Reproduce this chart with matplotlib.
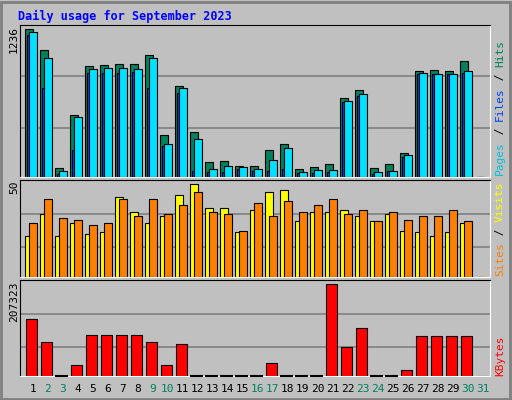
import numpy as np
import matplotlib.pyplot as plt
from matplotlib.patches import Rectangle

days = np.arange(1, 32)
hits = [1236, 1060, 78, 515, 925, 934, 942, 942, 1018, 355, 758, 380, 129, 137, 95,
        95, 229, 280, 70, 87, 112, 665, 724, 78, 112, 204, 884, 892, 884, 967, np.nan]
files = [1211, 993, 53, 498, 900, 909, 909, 900, 993, 280, 741, 322, 70, 95, 87,
         70, 145, 246, 45, 62, 62, 632, 691, 45, 53, 187, 867, 858, 858, 884, np.nan]
pages = [1191, 741, 28, 229, 867, 867, 867, 875, 741, 263, 699, 53, 45, 45, 70,
         53, 53, 70, 36, 36, 45, 624, 682, 28, 53, 171, 858, 858, 858, 867, np.nan]
visits = [22, 34, 22, 29, 23, 24, 43, 35, 29, 33, 44, 50, 37, 37, 24,
          36, 46, 47, 30, 35, 35, 36, 33, 30, 34, 25, 24, 22, 24, 29, np.nan]
sites = [29, 42, 32, 31, 28, 29, 42, 33, 42, 34, 39, 46, 35, 34, 25,
         40, 33, 41, 35, 39, 42, 34, 36, 30, 35, 31, 33, 33, 36, 30, np.nan]
kbytes = [129900, 77500, 0, 25000, 93400, 93400, 93400, 93400, 77500, 25000, 72900, 0, 0, 0, 0,
          0, 29600, 0, 0, 0, 207323, 66100, 109400, 0, 0, 13700, 91100, 91100, 91100, 91100, np.nan]
weekend = [2, 3, 9, 10, 16, 17, 23, 24, 30, 31]

BG = '#C0C0C0'
GRID = '#808080'
W, H = 512, 400
fig = plt.figure(figsize=(5.12, 4.0), dpi=100, facecolor=BG)
fig.patches.append(Rectangle((1, 1), W - 3, H - 3, transform=None, fill=False, ec='#808080', lw=2))

def px_axes(x0, y0, x1, y1):
    return fig.add_axes([x0 / W, 1 - y1 / H, (x1 - x0) / W, (y1 - y0) / H])

x = days - 1
XL = (-0.353, 30.98)
mono = 'DejaVu Sans Mono'

def style(ax, ylim, grids):
    ax.set_facecolor(BG)
    ax.set_xlim(*XL)
    ax.set_ylim(0, ylim)
    for g in grids:
        ax.axhline(g, color=GRID, lw=1.2, zorder=0)
    ax.set_xticks([]); ax.set_yticks([])
    for s in ('left', 'top'):
        ax.spines[s].set_color('black')
    for s in ('right', 'bottom'):
        ax.spines[s].set_color('white')

def clean(v):
    return np.nan_to_num(np.array(v, dtype=float))

# hits / files / pages
ax1 = px_axes(20, 25, 490, 177)
style(ax1, 1272, [842, 413])
ax1.bar(x, clean(hits), width=0.49, align='edge', color='#00805C', ec='black', lw=0.8, zorder=2)
ax1.bar(x + 0.13, clean(pages), width=0.4, align='edge', color='#0040FF', ec='black', lw=0.8, zorder=3)
ax1.bar(x + 0.27, clean(files), width=0.49, align='edge', color='#00E0FF', ec='black', lw=0.8, zorder=4)

# visits / sites
ax2 = px_axes(20, 180, 490, 277)
style(ax2, 52.3, [34.2, 16.3])
ax2.bar(x, clean(visits), width=0.49, align='edge', color='#FFFF00', ec='black', lw=0.8, zorder=2)
ax2.bar(x + 0.27, clean(sites), width=0.49, align='edge', color='#FF8000', ec='black', lw=0.8, zorder=3)

# kbytes
ax3 = px_axes(20, 280, 490, 376)
style(ax3, 217000, [141000, 66000])
kb = np.array(kbytes, dtype=float)
ax3.bar(x + 0.067, np.where(kb > 0, kb, 0), width=0.69, align='edge', color='#FF0000', ec='black', lw=0.8, zorder=2)
for xi, v in zip(x, kb):
    if v == 0:
        ax3.plot([xi + 0.067, xi + 0.76], [0, 0], color='black', lw=1.5, zorder=3, clip_on=False)

for d, xi in zip(days, x):
    ax3.text(xi + 0.5, -0.14, str(d), transform=ax3.get_xaxis_transform(), ha='center', va='center',
             fontsize=8, family=mono, color='#00805C' if d in weekend else 'black')

fig.text(18 / W, 1 - 16 / H, 'Daily usage for September 2023', color='#0000FF',
         fontsize=8.5, family=mono, fontweight='bold', va='center')
for lab, ytop in (('1236', 26), ('50', 181), ('207323', 281)):
    fig.text(14 / W, 1 - ytop / H, lab, rotation=90, ha='center', va='top', fontsize=8, family=mono)

renderer = fig.canvas.get_renderer()

def right_label(parts, ybot):
    y = ybot
    for txt, col in parts:
        t = fig.text(500 / W, 1 - y / H, txt, rotation=90, ha='center', va='bottom',
                     fontsize=8, family=mono, color=col)
        y -= t.get_window_extent(renderer).height

right_label([('Pages', '#00C0E0'), (' / ', 'black'), ('Files', '#0040FF'), (' / ', 'black'), ('Hits', '#00805C')], 175)
right_label([('Sites', '#FF8000'), (' / ', 'black'), ('Visits', '#FFFF00')], 276)
right_label([('KBytes', '#FF0000')], 376)

fig.savefig('out.png', dpi=100, facecolor=BG)
